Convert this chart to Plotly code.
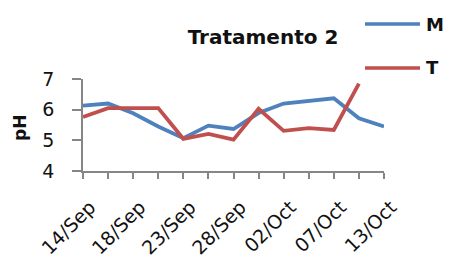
import plotly.graph_objects as go

dates = ["14/Sep", "16/Sep", "18/Sep", "21/Sep", "23/Sep", "25/Sep", "28/Sep",
         "30/Sep", "02/Oct", "04/Oct", "07/Oct", "09/Oct", "13/Oct"]
shown_labels = ["14/Sep", "", "18/Sep", "", "23/Sep", "", "28/Sep",
                "", "02/Oct", "", "07/Oct", "", "13/Oct"]
m_values = [6.13, 6.20, 5.88, 5.45, 5.07, 5.48, 5.37, 5.89, 6.20, 6.28, 6.37, 5.72, 5.45]
t_values = [5.76, 6.05, 6.05, 6.05, 5.05, 5.21, 5.02, 6.03, 5.31, 5.40, 5.34, 6.85]

BLUE = "#4F81BD"
RED = "#C0504D"
AX = "#868686"

OFF = 8  # browser body margin
W, H = 454 - OFF, 263 - OFF
L, T = 83 - OFF, 79 - OFF
R = W - (384 - OFF)
B = H - (171 - OFF)
PW, PH = W - L - R, H - T - B

def px(x):
    return (x - OFF - L) / PW

def py(y):
    return (H - B - (y - OFF)) / PH

xs = list(range(len(dates)))

fig = go.Figure()
fig.add_trace(go.Scatter(x=xs, y=m_values, mode="lines", name="M",
                         line=dict(color=BLUE, width=3.8), showlegend=False))
fig.add_trace(go.Scatter(x=xs[:len(t_values)], y=t_values, mode="lines", name="T",
                         line=dict(color=RED, width=3.8), showlegend=False))

fig.update_layout(
    width=W, height=H,
    margin=dict(l=L, r=R, t=T, b=B, autoexpand=False),
    paper_bgcolor="white", plot_bgcolor="white",
    font=dict(family="DejaVu Sans", color="#000000"),
    title=dict(text="<b>Tratamento 2</b>", x=(263 - OFF) / W, y=1 - (37 - OFF) / H,
               xanchor="center", yanchor="middle", xref="container", yref="container",
               font=dict(size=20, family="DejaVu Sans", color="#111111")),
    xaxis=dict(range=[0, 12], tickmode="array", tickvals=xs, ticktext=shown_labels,
               tickangle=-45, showline=True, linecolor=AX, linewidth=1.5,
               ticks="outside", ticklen=6, tickcolor=AX, tickwidth=1.5,
               showgrid=False, zeroline=False, ticklabelstandoff=10, ticklabelshift=7,
               tickfont=dict(size=19, family="DejaVu Sans", color="#111111")),
    yaxis=dict(range=[4, 7], tickvals=[4, 5, 6, 7], showline=True, linecolor=AX,
               linewidth=1.5, ticks="outside", ticklen=9, tickcolor=AX, tickwidth=1.5,
               showgrid=False, zeroline=False, ticklabelstandoff=14,
               tickfont=dict(size=19, family="DejaVu Sans", color="#111111")),
)

fig.add_annotation(text="<b>pH</b>", x=px(20), y=py(128), xref="paper", yref="paper",
                   textangle=-90, showarrow=False, xanchor="center", yanchor="middle",
                   font=dict(size=17, family="DejaVu Sans", color="#111111"))

for name, color, yy in [("M", BLUE, 24), ("T", RED, 68)]:
    fig.add_shape(type="line", xref="paper", yref="paper",
                  x0=px(365), x1=px(420), y0=py(yy), y1=py(yy),
                  line=dict(color=color, width=3.5))
    fig.add_annotation(text="<b>%s</b>" % name, x=px(424), y=py(yy), xref="paper", yref="paper",
                       showarrow=False, xanchor="left", yanchor="middle",
                       font=dict(size=18, family="DejaVu Sans", color="#111111"))

fig.write_html("out.html")
